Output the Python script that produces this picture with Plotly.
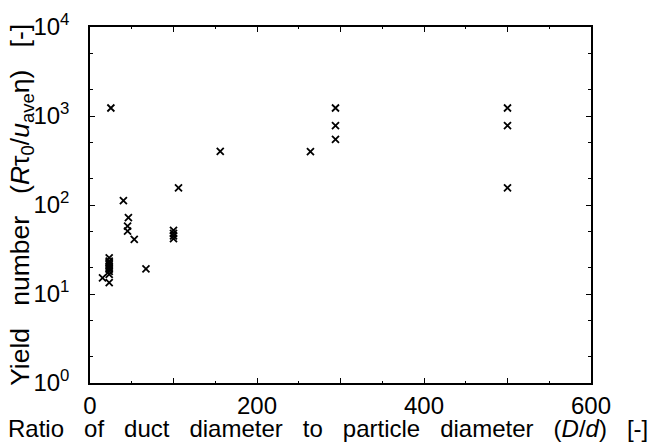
import plotly.graph_objects as go

# Ratio of duct diameter to particle diameter (D/d)
ratio = [15, 23, 23, 23, 23, 23, 23, 23, 23, 23, 23, 25,
         40, 46, 45, 45, 53, 67,
         100, 100, 100, 100,
         106, 156, 264, 294, 294, 294, 500, 500, 500]
# Yield number
yield_num = [15.2, 13.4, 16.6, 18.0, 19.0, 19.7, 20.5, 21.4, 22.5, 23.4, 25.5, 1230,
             112, 72, 58, 51, 41, 19.2,
             52, 48, 45, 42,
             156, 400, 398, 1230, 780, 545, 1230, 780, 156]

x_tickvals = [0, 100, 200, 300, 400, 500, 600]
x_ticktext = ["0", "", "200", "", "400", "", "600"]
x_minor = [50, 150, 250, 350, 450, 550]
y_tickvals = [1, 10, 100, 1000, 10000]
y_ticktext = ["10<sup>0</sup>", "10<sup>1</sup>", "10<sup>2</sup>", "10<sup>3</sup>", "10<sup>4</sup>"]
y_minor = [2, 5, 20, 50, 200, 500, 2000, 5000]

FONT = "Liberation Sans, Arial, Helvetica, sans-serif"
SP = " \u00a0 "

x_title = ("Ratio" + SP + "of" + SP + "duct" + SP + "diameter" + SP + "to" + SP +
           "particle" + SP + "diameter" + SP + "(<i>D</i>/<i>d</i>)" + SP + "[-]")
y_title = ("Yield" + SP + "number" + SP +
           "(<i>R</i>τ<sub>0</sub>/<i>u</i><sub>ave</sub>η)" + SP + "[-]")

fig = go.Figure()
fig.add_trace(go.Scatter(
    x=ratio, y=yield_num, mode="markers",
    marker=dict(symbol="x-thin", size=7, color="black",
                line=dict(color="black", width=1.8)),
    showlegend=False,
))

fig.update_layout(
    width=649, height=443,
    margin=dict(l=90, r=58, t=27, b=60, autoexpand=False),
    paper_bgcolor="white", plot_bgcolor="white",
    font=dict(family=FONT, size=24, color="black"),
    annotations=[
        dict(text=x_title, xref="paper", yref="paper", x=0.476, y=-0.128,
             xanchor="center", yanchor="middle", showarrow=False,
             font=dict(size=24)),
        dict(text=y_title, xref="paper", yref="paper", x=-0.136, y=0.5,
             xanchor="center", yanchor="middle", showarrow=False, textangle=-90,
             font=dict(size=26.5)),
    ],
)
fig.update_xaxes(
    range=[0, 600], showgrid=False, zeroline=False,
    showline=True, linecolor="black", linewidth=1.5, mirror="ticks",
    tickmode="array", tickvals=x_tickvals, ticktext=x_ticktext,
    ticks="inside", ticklen=5, tickwidth=1, tickcolor="black",
    minor=dict(tickvals=x_minor, ticks="inside", ticklen=2, tickcolor="black", tickwidth=1),
    tickfont=dict(size=24), automargin=False,
)
fig.update_yaxes(
    type="log", range=[0, 4], showgrid=False, zeroline=False,
    showline=True, linecolor="black", linewidth=1.5, mirror="ticks",
    tickmode="array", tickvals=y_tickvals, ticktext=y_ticktext,
    ticks="inside", ticklen=5, tickwidth=1, tickcolor="black",
    minor=dict(tickvals=y_minor, ticks="inside", ticklen=3, tickcolor="black", tickwidth=1),
    tickfont=dict(size=24), ticklabelstandoff=14, automargin=False,
)

fig.write_html("out.html", config=dict(displayModeBar=False),
               post_script="document.body.style.margin='0';document.body.style.padding='0';")
